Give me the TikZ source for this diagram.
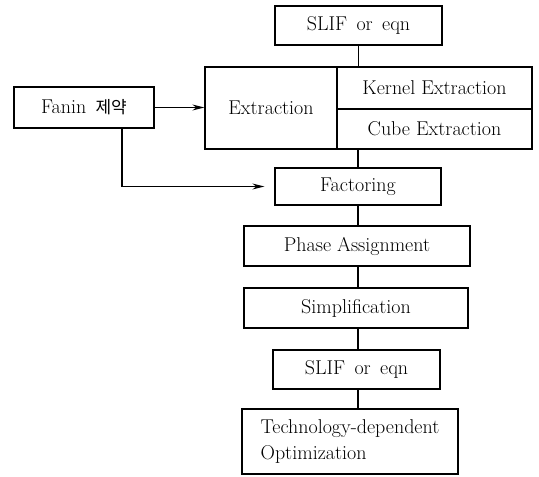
\documentclass[tikz,border=0pt]{standalone}
\usepackage{fontspec}
\newfontfamily\kr{Noto Sans CJK KR}
\usetikzlibrary{arrows.meta}
\begin{document}
\begin{tikzpicture}[x=1pt,y=-1pt,
  box/.style={draw,line width=1.2pt,inner sep=0pt,font=\fontsize{20}{26}\selectfont\addfontfeatures{LetterSpace=2}},
  conn/.style={line width=1.2pt},
  arr/.style={line width=1.2pt,-{Stealth[length=12pt,width=6pt]}}]
\useasboundingbox (0,0) rectangle (539,477);
\node[box,minimum width=167pt,minimum height=39pt] (slif1) at (358.5,25.5) {SLIF\, or\, eqn};
\node[box,minimum width=132pt,minimum height=82pt] (ext) at (271,108) {Extraction};
\node[box,minimum width=195pt,minimum height=42pt] (kern) at (434.5,88) {Kernel Extraction};
\node[box,minimum width=195pt,minimum height=40pt] (cube) at (434.5,129) {Cube Extraction};
\node[box,minimum width=140pt,minimum height=41pt] (fanin) at (84,107.5) {Fanin\, {\kr\fontsize{17}{20}\selectfont 제약}};
\node[box,minimum width=166pt,minimum height=37pt] (fact) at (358,186.5) {Factoring};
\node[box,minimum width=226pt,minimum height=40pt] (phase) at (357,246) {Phase Assignment};
\node[box,minimum width=224pt,minimum height=40pt] (simp) at (356,308) {Simplification};
\node[box,minimum width=167pt,minimum height=39pt] (slif2) at (356.5,369.5) {SLIF\, or\, eqn};
\node[box,minimum width=216pt,minimum height=65pt,align=left] (tech) at (350,441.5) {Technology-dependent\\Optimization};
\coordinate (bend) at (122,186.5);
\draw[conn] (slif1.south) -- (slif1.south |- kern.north);
\draw[conn] (fact.north |- cube.south) -- (fact.north);
\draw[conn] (fact.south) -- (fact.south |- phase.north);
\draw[conn] (fact.south |- phase.south) -- (fact.south |- simp.north);
\draw[conn] (fact.south |- simp.south) -- (fact.south |- slif2.north);
\draw[conn] (fact.south |- slif2.south) -- (fact.south |- tech.north);
\draw[arr] (fanin.east) -- (fanin.east -| ext.west);
\draw[arr,shorten >=10pt] (fanin.south -| bend) |- (fact.west);
\end{tikzpicture}
\end{document}
